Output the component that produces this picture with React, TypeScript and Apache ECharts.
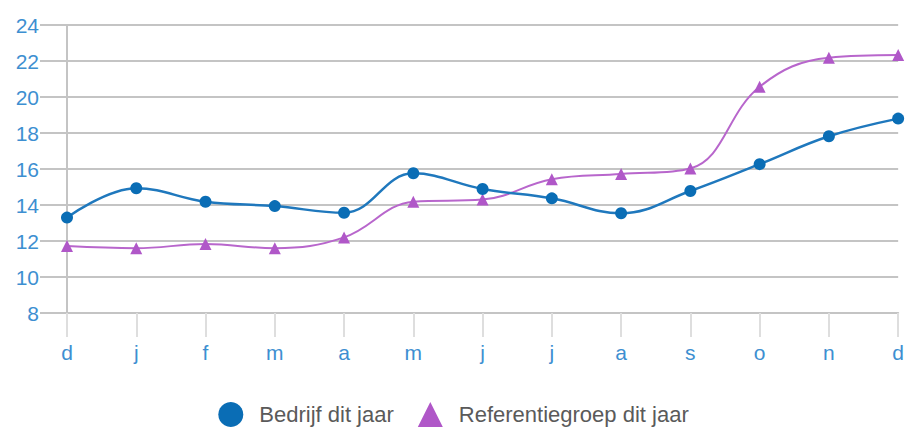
import React, { useEffect, useRef } from "react";
import * as echarts from "echarts";

const months = ["d", "j", "f", "m", "a", "m", "j", "j", "a", "s", "o", "n", "d"];
const bedrijf = [13.3, 14.93, 14.18, 13.94, 13.57, 15.76, 14.89, 14.37, 13.54, 14.78, 16.27, 17.82, 18.8];
const referentie = [11.72, 11.6, 11.83, 11.6, 12.2, 14.18, 14.3, 15.43, 15.72, 16.03, 20.57, 22.18, 22.33];
const seriesNames = ["Bedrijf dit jaar", "Referentiegroep dit jaar"];
const yMin = 8;
const yMax = 24;
const yStep = 2;

export default function App() {
  const ref = useRef<HTMLDivElement>(null);
  useEffect(() => {
    if (!ref.current) return;
    const chart = echarts.init(ref.current, undefined, { renderer: "svg" });
    const font = "Liberation Sans, Arial, sans-serif";
    chart.setOption({
      animation: false,
      backgroundColor: "#ffffff",
      grid: { left: 67, right: 7, top: 25, bottom: 117, containLabel: false },
      legend: {
        bottom: 3,
        left: "center",
        padding: 0,
        itemWidth: 25,
        itemHeight: 25,
        itemGap: 24,
        textStyle: { color: "#5a5a5a", fontSize: 22, fontFamily: font, padding: [0, 0, 0, 11] },
        data: [
          { name: seriesNames[0], icon: "circle" },
          { name: seriesNames[1], icon: "triangle" },
        ],
      },
      xAxis: {
        type: "category",
        data: months,
        boundaryGap: false,
        axisLine: { show: true, lineStyle: { color: "#c4c4c4", width: 2 } },
        axisTick: { show: true, length: 24, lineStyle: { color: "#dedede", width: 2 } },
        axisLabel: { color: "#3d8fd1", fontSize: 21, fontFamily: font, margin: 29 },
        splitLine: { show: false },
      },
      yAxis: {
        type: "value",
        min: yMin,
        max: yMax,
        interval: yStep,
        axisLine: { show: true, lineStyle: { color: "#c4c4c4", width: 2 } },
        axisTick: { show: true, length: 27, lineStyle: { color: "#c4c4c4", width: 2 } },
        axisLabel: { color: "#3d8fd1", fontSize: 21, fontFamily: font, margin: 28 },
        splitLine: { show: true, lineStyle: { color: "#c4c4c4", width: 2 } },
      },
      series: [
        {
          name: seriesNames[0],
          type: "line",
          data: bedrijf,
          smooth: 0.4,
          symbol: "circle",
          symbolSize: 12,
          itemStyle: { color: "#0a6db5" },
          lineStyle: { color: "#1f78bd", width: 2.5 },
          z: 3,
        },
        {
          name: seriesNames[1],
          type: "line",
          data: referentie,
          smooth: 0.4,
          symbol: "triangle",
          symbolSize: 12,
          itemStyle: { color: "#b057c8" },
          lineStyle: { color: "#b866cc", width: 2 },
          z: 2,
        },
      ],
    });
    return () => chart.dispose();
  }, []);
  return (
    <div style={{ position: "fixed", left: 0, top: 0, width: 907, height: 430, background: "#fff" }}>
      <div style={{ position: "absolute", left: 1, top: 0, width: 2, height: 430, background: "#8cc63f" }} />
      <div ref={ref} style={{ position: "absolute", left: 0, top: 0, width: 907, height: 430 }} />
    </div>
  );
}
